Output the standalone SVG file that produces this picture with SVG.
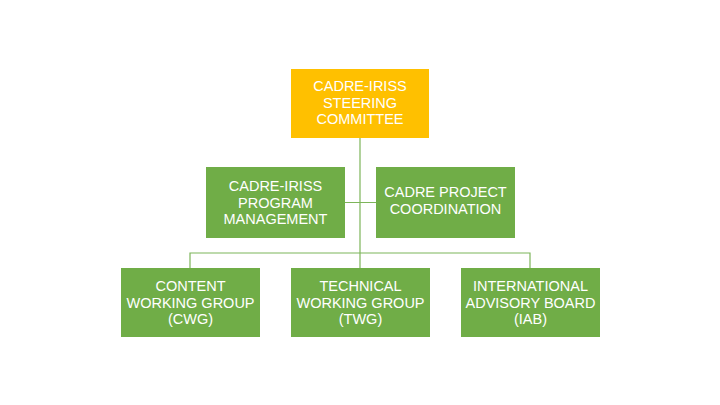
<svg xmlns="http://www.w3.org/2000/svg" width="720" height="405" viewBox="0 0 720 405">
<style>
.box{fill:#70AD47}
.top{fill:#FFC000}
.t{font-family:"Liberation Sans",Arial,sans-serif;font-size:14.5px;fill:#fff;text-anchor:middle}
.ln{stroke:#7DB55A;stroke-width:1.2;fill:none}
</style>
<rect width="720" height="405" fill="#fff"/>
<g id="connectors">
<path class="ln" d="M360 138V253M345 202.5H376M190 268V253H530V268M360 253V268"/>
</g>
<g id="steering"><rect class="top" x="291" y="69" width="138" height="69"/>
<text class="t" x="360" y="91">CADRE-IRISS</text><text class="t" x="360" y="107.5">STEERING</text><text class="t" x="360" y="124">COMMITTEE</text></g>
<g id="program"><rect class="box" x="206" y="167" width="139" height="71"/>
<text class="t" x="275.5" y="191">CADRE-IRISS</text><text class="t" x="275.5" y="207.5">PROGRAM</text><text class="t" x="275.5" y="224">MANAGEMENT</text></g>
<g id="coordination"><rect class="box" x="376" y="167" width="139" height="71"/>
<text class="t" x="445.5" y="197">CADRE PROJECT</text><text class="t" x="445.5" y="214">COORDINATION</text></g>
<g id="cwg"><rect class="box" x="121" y="268" width="139" height="69"/>
<text class="t" x="190.5" y="291">CONTENT</text><text class="t" x="190.5" y="307.5">WORKING GROUP</text><text class="t" x="190.5" y="324">(CWG)</text></g>
<g id="twg"><rect class="box" x="291" y="268" width="139" height="69"/>
<text class="t" x="360.5" y="291">TECHNICAL</text><text class="t" x="360.5" y="307.5">WORKING GROUP</text><text class="t" x="360.5" y="324">(TWG)</text></g>
<g id="iab"><rect class="box" x="461" y="268" width="139" height="69"/>
<text class="t" x="530.5" y="291">INTERNATIONAL</text><text class="t" x="530.5" y="307.5">ADVISORY BOARD</text><text class="t" x="530.5" y="324">(IAB)</text></g>
</svg>
